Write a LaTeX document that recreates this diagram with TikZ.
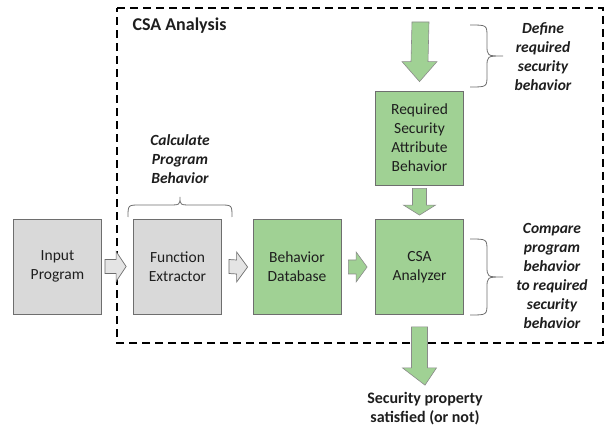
\documentclass[tikz,border=0pt]{standalone}
\usepackage{fontspec}
\setmainfont{Carlito}
\usetikzlibrary{calc}
\definecolor{boxgray}{RGB}{217,217,217}
\definecolor{boxgreen}{RGB}{160,209,148}
\definecolor{edgegray}{RGB}{110,110,110}
\definecolor{txt}{RGB}{30,30,30}
\begin{document}
\begin{tikzpicture}[x=1pt,y=-1pt,
  box/.style={draw=edgegray,line width=0.8pt,minimum width=88pt,minimum height=95pt,inner sep=2pt,align=center,text=txt,font=\fontsize{15.5}{19}\selectfont},
  graybox/.style={box,fill=boxgray},
  greenbox/.style={box,fill=boxgreen},
  grayarrow/.style={draw=edgegray,line width=0.7pt,fill=boxgray!70!white},
  greenarrow/.style={draw=edgegray!80,line width=0.6pt,fill=boxgreen},
  note/.style={align=center,text=txt,font=\fontsize{15.5}{19}\selectfont\bfseries\itshape},
  bracestyle/.style={draw=edgegray,line width=0.8pt},
  frame/.style={draw=black,line width=2.6pt,dash pattern=on 8pt off 5pt}]
\useasboundingbox (0,0) rectangle (605,430);
% dashed frame
\draw[frame] (117,8) -- (603,8) -- (603,343) -- (117,343) -- cycle;
\node[anchor=west,font=\fontsize{18}{22}\selectfont\bfseries,text=txt] (title) at (129,26) {CSA Analysis};
% boxes
\node[graybox] (in) at (57.5,266.5) {Input\\Program};
\node[graybox] (fe) at (177.5,266.5) {Function\\Extractor};
\node[greenbox] (db) at (297,267) {Behavior\\Database};
\node[greenbox] (an) at (419.5,267) {CSA\\Analyzer};
\node[greenbox,minimum height=94pt] (rq) at (419.5,138) {Required\\Security\\Attribute\\Behavior};
% horizontal arrows
\draw[grayarrow] ($(in.east)+(3,-7)$) -- ($(fe.west)+(-17,-7)$) -- ($(fe.west)+(-17,-15)$) -- ($(fe.west)+(-7,0)$) -- ($(fe.west)+(-17,15)$) -- ($(fe.west)+(-17,7)$) -- ($(in.east)+(3,7)$) -- cycle;
\draw[grayarrow] ($(fe.east)+(7,-7)$) -- ($(db.west)+(-16,-7)$) -- ($(db.west)+(-16,-15)$) -- ($(db.west)+(-5,0)$) -- ($(db.west)+(-16,15)$) -- ($(db.west)+(-16,7)$) -- ($(fe.east)+(7,7)$) -- cycle;
\draw[greenarrow] ($(db.east)+(7,-7)$) -- ($(an.west)+(-19,-7)$) -- ($(an.west)+(-19,-15)$) -- ($(an.west)+(-8,0)$) -- ($(an.west)+(-19,15)$) -- ($(an.west)+(-19,7)$) -- ($(db.east)+(7,7)$) -- cycle;
% vertical arrows
\coordinate (topin) at (420.5,22);
\draw[greenarrow] ($(topin)+(-8.5,0)$) -- ($(rq.north)+(-8.5,-29)$) -- ($(rq.north)+(-17.5,-29)$) -- ($(rq.north)+(0,-9)$) -- ($(rq.north)+(17.5,-29)$) -- ($(rq.north)+(8.5,-29)$) -- ($(topin)+(8.5,0)$) -- cycle;
\draw[greenarrow] ($(rq.south)+(-7,3)$) -- ($(an.north)+(-7,-14)$) -- ($(an.north)+(-16,-14)$) -- ($(an.north)+(0,-4)$) -- ($(an.north)+(16,-14)$) -- ($(an.north)+(7,-14)$) -- ($(rq.south)+(7,3)$) -- cycle;
\node[align=center,text=txt,font=\fontsize{16}{19}\selectfont\bfseries] (out) at (425,409) {Security property\\satisfied (or not)};
\draw[greenarrow] ($(an.south)+(-8,12)$) -- ($(an.south)+(-8,53)$) -- ($(an.south)+(-17,53)$) -- ($(out.north)+(0,-4)$) -- ($(an.south)+(17,53)$) -- ($(an.south)+(8,53)$) -- ($(an.south)+(8,12)$) -- cycle;
% notes and braces
\node[note] (calc) at (180,159) {Calculate\\Program\\Behavior};
\draw[bracestyle] (128,217) .. controls (128,205) .. (140,205) -- (168,205) .. controls (180,205) .. (180,197) .. controls (180,205) .. (192,205) -- (220,205) .. controls (232,205) .. (232,217);
\node[note] (def) at (543,57) {Define\\required\\security\\behavior};
\draw[bracestyle] (470,25) .. controls (487,25) .. (487,37) -- (487,45) .. controls (487,56) .. (503,56) .. controls (487,56) .. (487,67) -- (487,75) .. controls (487,87) .. (470,87);
\node[note] (cmp) at (552,276) {Compare\\program\\behavior\\to required\\security\\behavior};
\draw[bracestyle] (470,239) .. controls (487,239) .. (487,251) -- (487,266) .. controls (487,277) .. (503,277) .. controls (487,277) .. (487,288) -- (487,303) .. controls (487,315) .. (470,315);
\end{tikzpicture}
\end{document}
